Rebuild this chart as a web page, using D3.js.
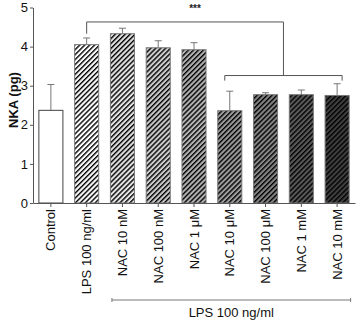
<!DOCTYPE html>
<html lang="en">
<head>
<meta charset="UTF-8">
<title>NKA bar chart</title>
<style>
    body { margin: 0; background: #fff; }
    svg text { font-family: "Liberation Sans", Arial, sans-serif; }
    .axis path, .axis line { stroke: #555; }
</style>
</head>
<body>
<svg width="358" height="322"></svg>
<script src="https://d3js.org/d3.v7.min.js"></script>
<script>
// data
var categories = ["Control", "LPS 100 ng/ml", "NAC 10 nM", "NAC 100 nM", "NAC 1 μM",
                  "NAC 10 μM", "NAC 100 μM", "NAC 1 mM", "NAC 10 mM"];
var means  = [2.37, 4.05, 4.33, 3.97, 3.92, 2.36, 2.77, 2.77, 2.75];
var errors = [0.66, 0.17, 0.14, 0.18, 0.18, 0.50, 0.05, 0.12, 0.30];
var yTicks = [0, 1, 2, 3, 4, 5];
var groupLabel = "LPS 100 ng/ml";
var sigLabel = "***";

// bar background shades (null = plain white, no hatch)
var shades = [null, "#ffffff", "#e4e4e4", "#cccccc", "#b4b4b4", "#9c9c9c", "#868686", "#5a5a5a", "#404040"];

var svg = d3.select("svg");

var x = d3.scaleBand()
    .domain(categories)
    .range([33, 355])
    .paddingInner(0.3)
    .paddingOuter(0.15);

var y = d3.scaleLinear()
    .domain([0, 5])
    .range([203, 7.5]);

// hatch patterns, one per bar
var defs = svg.append("defs");
shades.forEach(function(c, i) {
    if (!c) return;
    var p = defs.append("pattern")
        .attr("id", "hatch" + i)
        .attr("patternUnits", "userSpaceOnUse")
        .attr("width", 3.5).attr("height", 3.5)
        .attr("patternTransform", "rotate(45)");
    p.append("rect").attr("width", 3.5).attr("height", 3.5).attr("fill", c);
    p.append("line").attr("x1", 0.7).attr("x2", 0.7).attr("y1", 0).attr("y2", 3.5)
        .attr("stroke", "#000").attr("stroke-width", 1.4);
});

// error bars (upper only) drawn first so bar covers the stem
var eb = svg.append("g").attr("stroke", "#777").attr("stroke-width", 1);
categories.forEach(function(c, i) {
    var cx = x(c) + x.bandwidth() / 2;
    eb.append("line").attr("x1", cx).attr("x2", cx)
        .attr("y1", y(means[i])).attr("y2", y(means[i] + errors[i]));
    eb.append("line").attr("x1", cx - 3.5).attr("x2", cx + 3.5)
        .attr("y1", y(means[i] + errors[i])).attr("y2", y(means[i] + errors[i]));
});

svg.append("g")
  .selectAll("rect")
  .data(means)
  .enter().append("rect")
    .attr("x", function(d, i) { return x(categories[i]) + 0.5; })
    .attr("y", function(d) { return y(d); })
    .attr("width", x.bandwidth() - 1)
    .attr("height", function(d) { return y(0) - y(d); })
    .attr("fill", function(d, i) { return shades[i] ? "url(#hatch" + i + ")" : "#fff"; })
    .attr("stroke", function(d, i) { return i == 0 ? "#444" : "#777"; })
    .attr("stroke-width", 1);

// y axis
svg.append("g")
    .attr("class", "axis")
    .attr("transform", "translate(33,0)")
    .call(d3.axisLeft(y).tickValues(yTicks).tickFormat(d3.format("d"))
        .tickSize(3).tickSizeOuter(0).tickPadding(2))
    .call(function(g) { g.selectAll("text").attr("font-size", 13).attr("fill", "#111"); });

svg.append("text")
    .attr("transform", "translate(13,100) rotate(-90)")
    .attr("text-anchor", "middle")
    .attr("dy", "0.35em")
    .attr("font-size", 13)
    .attr("font-weight", "bold")
    .attr("fill", "#111")
    .text("NKA (pg)");

// x axis
svg.append("g")
    .attr("class", "axis")
    .attr("transform", "translate(0,203)")
    .call(d3.axisBottom(x).tickSize(4).tickSizeOuter(0))
    .call(function(g) {
        g.selectAll("text")
            .attr("font-size", 13)
            .attr("fill", "#111")
            .attr("text-anchor", "end")
            .attr("transform", "rotate(-90)")
            .attr("x", -6)
            .attr("y", 0)
            .attr("dy", "0.35em");
    });

// significance brackets
var cx = function(i) { return x(categories[i]) + x.bandwidth() / 2; };
var sig = svg.append("g").attr("fill", "none").attr("stroke", "#555").attr("stroke-width", 1);
var midLow = (cx(5) + cx(8)) / 2;
sig.append("path")
    .attr("d", "M" + cx(1) + "," + y(4.33) + "V" + y(4.63) + "H" + midLow + "V" + y(3.26));
sig.append("path")
    .attr("d", "M" + (cx(5) - 5) + "," + y(3.13) + "V" + y(3.26) + "H" + (cx(8) + 5) + "V" + y(3.13));

svg.append("text")
    .attr("x", (cx(1) + midLow) / 2 + 10)
    .attr("y", 12)
    .attr("text-anchor", "middle")
    .attr("font-size", 10)
    .attr("font-weight", "bold")
    .attr("fill", "#222")
    .text(sigLabel);

// LPS group line under the labels
var gl = svg.append("g").attr("stroke", "#777").attr("stroke-width", 1);
var gx0 = x(categories[2]) + 2, gx1 = x(categories[8]) + x.bandwidth() + 1;
gl.append("line").attr("x1", gx0).attr("x2", gx1).attr("y1", 300).attr("y2", 300);
gl.append("line").attr("x1", gx0).attr("x2", gx0).attr("y1", 298).attr("y2", 302);
gl.append("line").attr("x1", gx1).attr("x2", gx1).attr("y1", 298).attr("y2", 302);

svg.append("text")
    .attr("x", (gx0 + gx1) / 2)
    .attr("y", 317)
    .attr("text-anchor", "middle")
    .attr("font-size", 13)
    .attr("fill", "#111")
    .text(groupLabel);
</script>
</body>
</html>
